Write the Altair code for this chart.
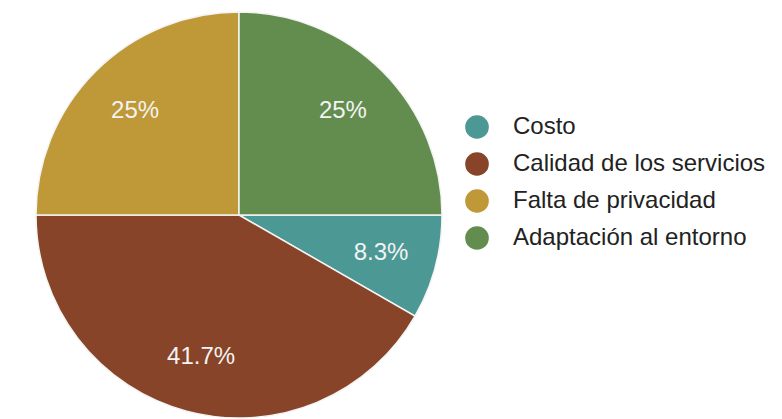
import altair as alt
import pandas as pd

categories = ["Costo", "Calidad de los servicios", "Falta de privacidad", "Adaptación al entorno"]
values = [8.3, 41.7, 25.0, 25.0]
labels = ["8.3%", "41.7%", "25%", "25%"]
slice_order = [1, 2, 3, 0]  # clockwise from 12 o'clock
colors = ["#4c9894", "#874428", "#bf9838", "#638d4f"]

df = pd.DataFrame({"cat": categories, "val": values, "lab": labels, "ord": slice_order})

base = alt.Chart(df).encode(
    theta=alt.Theta("val:Q", stack=True),
    order=alt.Order("ord:Q"),
)

pie = base.mark_arc(outerRadius=203, stroke="#f4f4f4", strokeWidth=1.5).encode(
    color=alt.Color(
        "cat:N",
        sort=categories,
        scale=alt.Scale(domain=categories, range=colors),
        legend=alt.Legend(
            title=None,
            orient="none",
            legendX=443,
            legendY=103,
            symbolType="circle",
            symbolSize=560,
            symbolStrokeWidth=0,
            labelFontSize=24,
            labelFont="Liberation Sans",
            labelColor="#222222",
            labelOffset=24,
            rowPadding=13,
            labelLimit=400,
        ),
    )
)

text = base.mark_text(radius=147, fontSize=24, font="Liberation Sans", color="#f3f3f3").encode(
    text="lab:N"
)

chart = (
    (pie + text)
    .properties(width=434, height=406, padding={"left": 14, "top": 1, "right": 5, "bottom": 0}, background="white")
    .configure_view(fill="#f9f9f9", stroke=None)
)

chart.save("out.html", embed_options={"renderer": "svg", "actions": False})
